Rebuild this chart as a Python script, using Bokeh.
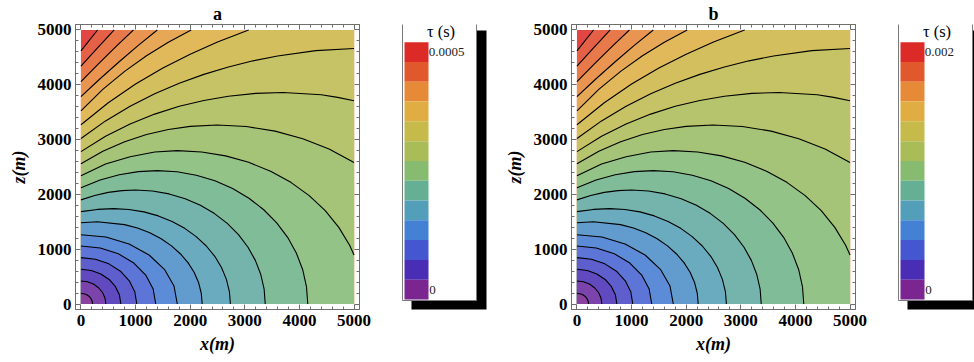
import numpy as np
from bokeh.plotting import figure
from bokeh.layouts import row
from bokeh.models import Range1d, LinearAxis, SingleIntervalTicker
from bokeh.embed import file_html
from bokeh.resources import INLINE
from bokeh.core.properties import value

# ---------------- data ----------------
panel_titles = ["a", "b"]
legend_title = "τ (s)"
legend_top_labels = ["0.0005", "0.002"]
legend_bottom_label = "0"
x_label = "x(m)"
z_label = "z(m)"
tick_step = 1000
domain_max = 5000
level_at_top_left = 21.4   # field value at (0, 5000) in contour-level units

# legend swatches, bottom (0) to top (max)
palette = ["#7A2590", "#4A2DB5", "#4456D0", "#4480D3", "#539EB8", "#65AF94",
           "#87BB70", "#A9BC58", "#C5BA4A", "#DFAD42", "#E68A37", "#E2582D", "#DC2A26"]

# contour lines (x, z) in metres, each read from its left-edge end outward
c01 = [(0, 195), (55, 188), (107, 169), (151, 138), (184, 98), (206, 50), (213, 0)]
c02 = [(0, 420), (118, 406), (228, 364), (322, 297), (395, 210), (440, 109), (456, 0)]
c03 = [(0, 633), (189, 611), (365, 548), (516, 448), (632, 317), (705, 164), (730, 0)]
c04 = [(0, 846), (265, 817), (511, 733), (723, 598), (885, 423), (987, 219), (1022, 0)]
c05 = [(0, 1058), (354, 1022), (685, 916), (968, 748), (1186, 529), (1322, 274), (1369, 0)]
c06 = [(0, 1265), (457, 1222), (882, 1095), (1247, 894), (1528, 633), (1704, 327), (1764, 0)]
c07 = [(0, 1484), (300, 1500), (797, 1449), (1035, 1386), (1260, 1299), (1469, 1190),
       (1658, 1061), (1823, 913), (1963, 750), (2074, 574), (2155, 388), (2203, 196), (2220, 0)]
c08 = [(0, 1685), (300, 1726), (600, 1740), (879, 1725), (1153, 1681), (1417, 1608),
       (1668, 1507), (1900, 1381), (2110, 1230), (2295, 1059), (2450, 870), (2573, 666),
       (2663, 450), (2718, 227), (2736, 0)]
c09 = [(0, 1900), (250, 1981), (500, 2037), (750, 2069), (1000, 2080), (1310, 2062),
       (1614, 2009), (1909, 1922), (2187, 1801), (2445, 1650), (2679, 1471), (2884, 1266),
       (3056, 1040), (3193, 796), (3293, 538), (3354, 271), (3374, 0)]
c10 = [(0, 2120), (350, 2262), (700, 2359), (1050, 2415), (1400, 2433), (1759, 2412),
       (2112, 2350), (2454, 2248), (2777, 2107), (3076, 1930), (3347, 1720), (3584, 1481),
       (3784, 1217), (3943, 931), (4059, 630), (4129, 318), (4153, 0)]
c11 = [(0, 2340), (450, 2554), (900, 2686), (1350, 2775), (1764, 2798), (2210, 2774),
       (2648, 2703), (3071, 2585), (3472, 2423), (3843, 2220), (4179, 1978), (4473, 1703),
       (4721, 1399), (4919, 1071), (5000, 894)]
c12 = [(0, 2560), (400, 2787), (800, 2961), (1200, 3092), (1600, 3184), (2000, 3241),
       (2494, 3266), (3029, 3238), (3555, 3155), (4062, 3017), (4543, 2828), (5000, 2584)]
c13 = [(0, 2780), (450, 3060), (900, 3285), (1350, 3465), (1800, 3607), (2250, 3714),
       (2700, 3792), (3200, 3843), (3700, 3860), (4400, 3817), (4700, 3771), (5000, 3709)]
c14 = [(0, 3020), (450, 3341), (900, 3609), (1350, 3836), (1800, 4028), (2250, 4190),
       (2700, 4325), (3150, 4437), (3600, 4526), (4300, 4623), (5000, 4663)]
c15 = [(0, 3270), (500, 3673), (1000, 4013), (1500, 4305), (2000, 4559), (2500, 4781),
       (3070, 5000)]
c16 = [(0, 3525), (400, 3915), (800, 4245), (1200, 4530), (1600, 4777), (2018, 5000)]
c17 = [(0, 3784), (350, 4110), (700, 4420), (1050, 4720), (1398, 5000)]
c18 = [(0, 4057), (320, 4380), (640, 4695), (960, 5000)]
c19 = [(0, 4340), (300, 4670), (608, 5000)]
c20 = [(0, 4620), (304, 5000)]
contours = [c01, c02, c03, c04, c05, c06, c07, c08, c09, c10,
            c11, c12, c13, c14, c15, c16, c17, c18, c19, c20]

# ---------------- styling ----------------
FRAME = "#6e6e6e"
SERIF = "Liberation Serif"
TOP, FRAME_H, BOTTOM = 24, 285, 53


def hex_to_rgb(h):
    return np.array([int(h[i:i + 2], 16) for i in (1, 3, 5)], dtype=float)


PAL_RGB = np.array([hex_to_rgb(c) for c in palette])
PAL_POS = (np.arange(len(palette)) + 0.5) / len(palette)


def colour_at(f, lighten=0.13):
    rgb = np.array([np.interp(f, PAL_POS, PAL_RGB[:, k]) for k in range(3)])
    rgb = rgb * (1 - lighten) + 255 * lighten
    return "#%02x%02x%02x" % tuple(int(round(v)) for v in rgb)


n_lev = len(contours)
band_colours = []
for j in range(n_lev + 1):
    hi = j + 1 if j < n_lev else level_at_top_left
    band_colours.append(colour_at((j + hi) / 2 / level_at_top_left))


def low_side(pts):
    xs = [p[0] for p in pts]
    zs = [p[1] for p in pts]
    lx, lz = pts[-1]
    if lz == 0:
        tail = [(0, 0)]
    elif lx == domain_max:
        tail = [(domain_max, 0), (0, 0)]
    else:
        tail = [(domain_max, domain_max), (domain_max, 0), (0, 0)]
    return xs + [t[0] for t in tail], zs + [t[1] for t in tail]


def make_panel(title_text):
    p = figure(frame_width=284, frame_height=FRAME_H,
               min_border_left=75, min_border_right=36,
               min_border_top=TOP, min_border_bottom=BOTTOM,
               x_range=Range1d(-100, 5100), y_range=Range1d(-100, 5100),
               output_backend="svg", toolbar_location=None,
               title=title_text, x_axis_label=x_label, y_axis_label=z_label,
               background_fill_color="white", border_fill_color="white")
    p.grid.visible = False
    p.outline_line_color = FRAME
    p.title.align = "center"
    p.title.text_font = SERIF
    p.title.text_font_style = "bold"
    p.title.text_font_size = "18px"
    p.title.text_color = "black"
    p.title.standoff = 2

    # filled bands (painted from high to low)
    pxs = [[0, domain_max, domain_max, 0]]
    pys = [[0, 0, domain_max, domain_max]]
    cols = [band_colours[n_lev]]
    for idx in range(n_lev - 1, -1, -1):
        xs, zs = low_side(contours[idx])
        pxs.append(xs)
        pys.append(zs)
        cols.append(band_colours[idx])
    p.patches(pxs, pys, fill_color=cols, line_color=None)

    p.multi_line([[q[0] for q in c] for c in contours],
                 [[q[1] for q in c] for c in contours],
                 line_color="black", line_width=1.1)

    p.add_layout(LinearAxis(), "above")
    p.add_layout(LinearAxis(), "right")
    for ax in p.axis:
        ax.ticker = SingleIntervalTicker(interval=tick_step, num_minor_ticks=5)
        ax.axis_line_color = FRAME
        ax.major_tick_line_color = FRAME
        ax.minor_tick_line_color = FRAME
        ax.major_tick_in = 5
        ax.major_tick_out = 0
        ax.minor_tick_in = 3
        ax.minor_tick_out = 0
        ax.major_label_text_font = SERIF
        ax.major_label_text_font_style = "bold"
        ax.major_label_text_font_size = "17px"
        ax.major_label_text_color = "black"
        ax.major_label_standoff = 5
        ax.axis_label_text_font = SERIF
        ax.axis_label_text_font_style = "bold italic"
        ax.axis_label_text_font_size = "18px"
        ax.axis_label_text_color = "black"
    for ax in p.above + p.right:
        ax.major_label_text_font_size = "1px"
        ax.major_label_text_color = None
        ax.major_label_standoff = 0
    p.xaxis[0].axis_label_standoff = 5
    p.yaxis[0].major_label_standoff = 4
    p.yaxis[0].axis_label_standoff = 6
    return p


def make_legend(width, top_label):
    # y coordinates of this figure are the page's pixel rows
    L = figure(width=width, frame_height=FRAME_H, min_border_top=TOP, min_border_bottom=BOTTOM,
               min_border_left=0, min_border_right=0,
               x_range=Range1d(0, width), y_range=Range1d(TOP + FRAME_H, TOP),
               output_backend="svg", toolbar_location=None,
               x_axis_type=None, y_axis_type=None,
               background_fill_color="white", border_fill_color="white")
    L.grid.visible = False
    L.outline_line_color = None
    # shadow and box
    L.quad(left=[16], right=[91], top=[30], bottom=[310], fill_color="black", line_color=None)
    L.quad(left=[7], right=[81], top=[20.5], bottom=[300], fill_color="white",
           line_color="#7a7a7a", line_width=1)
    n = len(palette)
    top0, bot0 = 41.7, 299.0
    h = (bot0 - top0) / n
    tops = [top0 + i * h for i in range(n)]
    L.quad(left=[9] * n, right=[33] * n, top=tops, bottom=[t + h for t in tops],
           fill_color=list(reversed(palette)), line_color=None)
    L.text(x=[45.5], y=[31], text=[legend_title], text_font=value(SERIF),
           text_font_size="16.5px", text_align="center", text_baseline="middle")
    L.text(x=[33.3, 33.8], y=[top0 + h / 2, bot0 - h / 2], text=[top_label, legend_bottom_label],
           text_font=value(SERIF), text_font_size="13px", text_align="left",
           text_baseline="middle", text_color="#222222")
    return L


pa = make_panel(panel_titles[0])
la = make_legend(101, legend_top_labels[0])
pb = make_panel(panel_titles[1])
lb = make_legend(83, legend_top_labels[1])

layout = row(pa, la, pb, lb)
open("out.html", "w").write(file_html(layout, INLINE))
